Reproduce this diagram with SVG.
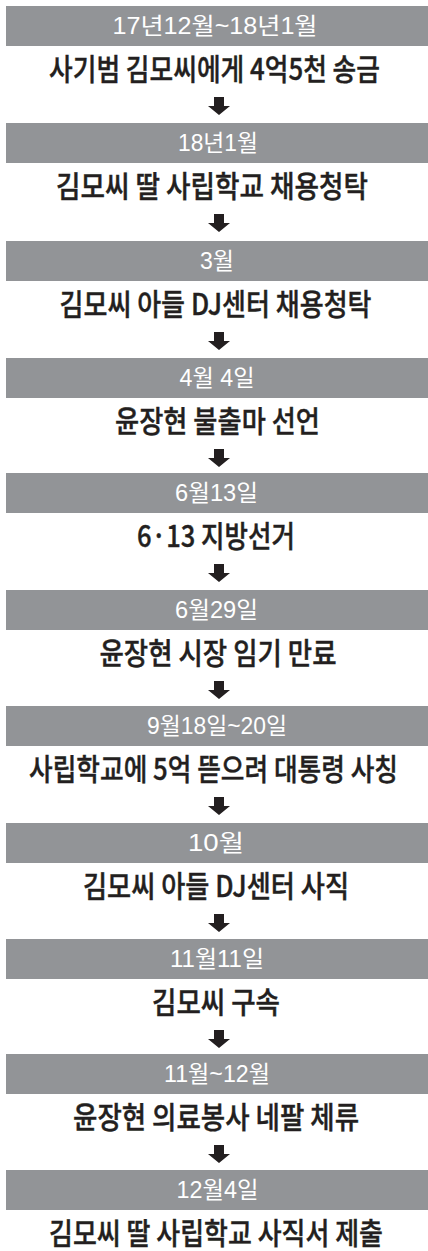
<svg xmlns="http://www.w3.org/2000/svg" xmlns:xlink="http://www.w3.org/1999/xlink" width="428" height="1251" viewBox="0 0 428 1251">
<style>
.bar{fill:#929497}
.hd{font-family:"Liberation Sans","Noto Sans CJK KR",sans-serif;font-size:23px;fill:#ffffff;text-anchor:middle}
.bd{font-family:"Noto Sans CJK KR","Noto Sans",sans-serif;font-size:25px;font-weight:500;fill:#231f20;stroke:#231f20;stroke-width:0.35;text-anchor:middle}
.arr{fill:#231f20}
</style>
<defs>
<path id="arrow" d="M -5 0 H 5 V 9 H 11 L 0 18 L -11 9 H -5 Z"/>
</defs>
<rect width="428" height="1251" fill="#ffffff"/>
<g id="n1"><rect class="bar" x="6" y="6" width="422" height="40"/><text class="hd" x="215" y="34" textLength="205" lengthAdjust="spacingAndGlyphs">17년12월~18년1월</text><g transform="translate(214.5,80) scale(1,1.2)"><text class="bd" x="0" y="0" textLength="331" lengthAdjust="spacingAndGlyphs">사기범 김모씨에게 4억5천 송금</text></g></g>
<g id="n2"><rect class="bar" x="6" y="123" width="422" height="40"/><text class="hd" x="218" y="151" textLength="80" lengthAdjust="spacingAndGlyphs">18년1월</text><g transform="translate(212,197) scale(1,1.2)"><text class="bd" x="0" y="0" textLength="312" lengthAdjust="spacingAndGlyphs">김모씨 딸 사립학교 채용청탁</text></g></g>
<g id="n3"><rect class="bar" x="6" y="241" width="422" height="40"/><text class="hd" x="217" y="269" textLength="34" lengthAdjust="spacingAndGlyphs">3월</text><g transform="translate(215.5,315) scale(1,1.2)"><text class="bd" x="0" y="0" textLength="312" lengthAdjust="spacingAndGlyphs">김모씨 아들 DJ센터 채용청탁</text></g></g>
<g id="n4"><rect class="bar" x="6" y="358" width="422" height="40"/><text class="hd" x="217" y="386" textLength="75" lengthAdjust="spacingAndGlyphs">4월 4일</text><g transform="translate(217.5,432) scale(1,1.2)"><text class="bd" x="0" y="0" textLength="205" lengthAdjust="spacingAndGlyphs">윤장현 불출마 선언</text></g></g>
<g id="n5"><rect class="bar" x="6" y="473" width="422" height="40"/><text class="hd" x="216.5" y="501" textLength="83" lengthAdjust="spacingAndGlyphs">6월13일</text><g transform="translate(216,547) scale(1,1.2)"><text class="bd" x="0" y="0" textLength="158" lengthAdjust="spacingAndGlyphs">6·13 지방선거</text></g></g>
<g id="n6"><rect class="bar" x="6" y="590" width="422" height="40"/><text class="hd" x="216.5" y="618" textLength="83" lengthAdjust="spacingAndGlyphs">6월29일</text><g transform="translate(218,664) scale(1,1.2)"><text class="bd" x="0" y="0" textLength="237" lengthAdjust="spacingAndGlyphs">윤장현 시장 임기 만료</text></g></g>
<g id="n7"><rect class="bar" x="6" y="706" width="422" height="40"/><text class="hd" x="217" y="734" textLength="140" lengthAdjust="spacingAndGlyphs">9월18일~20일</text><g transform="translate(213.5,780) scale(1,1.2)"><text class="bd" x="0" y="0" textLength="369" lengthAdjust="spacingAndGlyphs">사립학교에 5억 뜯으려 대통령 사칭</text></g></g>
<g id="n8"><rect class="bar" x="6" y="823" width="422" height="40"/><text class="hd" x="216" y="851" textLength="56" lengthAdjust="spacingAndGlyphs">10월</text><g transform="translate(216,897) scale(1,1.2)"><text class="bd" x="0" y="0" textLength="266" lengthAdjust="spacingAndGlyphs">김모씨 아들 DJ센터 사직</text></g></g>
<g id="n9"><rect class="bar" x="6" y="939" width="422" height="40"/><text class="hd" x="217" y="967" textLength="94" lengthAdjust="spacingAndGlyphs">11월11일</text><g transform="translate(216,1013) scale(1,1.2)"><text class="bd" x="0" y="0" textLength="128" lengthAdjust="spacingAndGlyphs">김모씨 구속</text></g></g>
<g id="n10"><rect class="bar" x="6" y="1054" width="422" height="40"/><text class="hd" x="217" y="1082" textLength="106" lengthAdjust="spacingAndGlyphs">11월~12월</text><g transform="translate(216,1128) scale(1,1.2)"><text class="bd" x="0" y="0" textLength="286" lengthAdjust="spacingAndGlyphs">윤장현 의료봉사 네팔 체류</text></g></g>
<g id="n11"><rect class="bar" x="6" y="1170" width="422" height="40"/><text class="hd" x="217.5" y="1198" textLength="82" lengthAdjust="spacingAndGlyphs">12월4일</text><g transform="translate(216,1244) scale(1,1.2)"><text class="bd" x="0" y="0" textLength="334" lengthAdjust="spacingAndGlyphs">김모씨 딸 사립학교 사직서 제출</text></g></g>
<g id="connectors" class="arr">
<use xlink:href="#arrow" href="#arrow" transform="translate(219,97)"/>
<use xlink:href="#arrow" href="#arrow" transform="translate(219,214)"/>
<use xlink:href="#arrow" href="#arrow" transform="translate(219,332)"/>
<use xlink:href="#arrow" href="#arrow" transform="translate(219,449)"/>
<use xlink:href="#arrow" href="#arrow" transform="translate(219,564)"/>
<use xlink:href="#arrow" href="#arrow" transform="translate(219,681)"/>
<use xlink:href="#arrow" href="#arrow" transform="translate(219,797)"/>
<use xlink:href="#arrow" href="#arrow" transform="translate(219,914)"/>
<use xlink:href="#arrow" href="#arrow" transform="translate(219,1030)"/>
<use xlink:href="#arrow" href="#arrow" transform="translate(219,1145)"/>
</g>
</svg>
